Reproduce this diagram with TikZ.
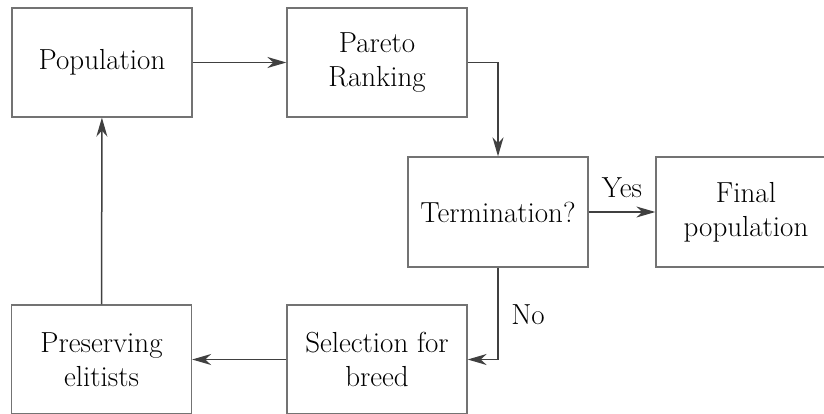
\documentclass[tikz,border=0pt]{standalone}
\usetikzlibrary{arrows.meta}
\begin{document}
\begin{tikzpicture}[x=1pt,y=-1pt,
  box/.style={draw=black!55, line width=1.3pt, minimum width=180pt, minimum height=109pt, inner sep=0pt, align=center, text=black, font=\fontsize{29}{34}\selectfont},
  conn/.style={draw=black!75, line width=1.5pt, -{Stealth[length=19pt,width=11pt,inset=6pt]}},
  lbl/.style={text=black, font=\fontsize{29}{34}\selectfont}]
\clip (0,0) rectangle (824,414);
\node[box] (pop) at (102,62.5) {Population};
\node[box] (par) at (377,62.5) {Pareto\\Ranking};
\node[box, minimum height=110pt] (term) at (498,212) {Termination?};
\node[box, minimum height=110pt] (fin) at (746,212) {Final\\population};
\node[box] (sel) at (377,359.5) {Selection for\\breed};
\node[box] (pre) at (101.5,359.5) {Preserving\\elitists};
\draw[conn] (pop) -- (par);
\draw[conn] (par.east) -| (term.north);
\draw[conn] (term) -- (fin);
\draw[conn] (term.south) |- (sel.east);
\draw[conn] (sel) -- (pre);
\draw[conn] (pre) -- (pop);
\node[lbl] (yes) at (622,188) {Yes};
\node[lbl] (no) at (528,315) {No};
\end{tikzpicture}
\end{document}
